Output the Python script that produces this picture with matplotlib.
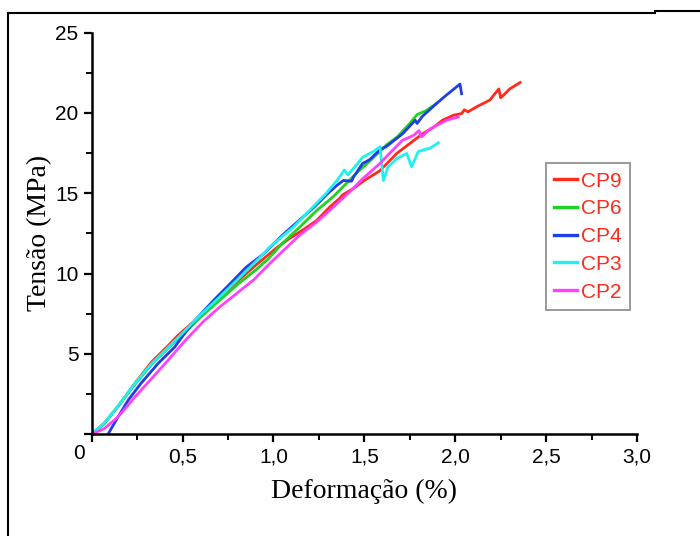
import numpy as np
import matplotlib
matplotlib.use('Agg')
import matplotlib.pyplot as plt
from matplotlib.ticker import MultipleLocator
from matplotlib.lines import Line2D

# Data (strain %, stress MPa)
cp9_x = [0.0, 0.07, 0.15, 0.24, 0.33, 0.42, 0.47, 0.6, 0.7, 0.8, 0.9, 1.017, 1.09, 1.16,
         1.237, 1.31, 1.366, 1.38, 1.41, 1.44, 1.5, 1.585, 1.68, 1.75, 1.82, 1.88, 1.93,
         1.99, 2.036, 2.05, 2.07, 2.12, 2.19, 2.24, 2.25, 2.265, 2.3, 2.357]
cp9_y = [0.0, 0.7, 1.8, 3.2, 4.5, 5.5, 6.1, 7.4, 8.5, 9.5, 10.5, 11.6, 12.2, 12.7,
         13.3, 14.15, 14.7, 14.9, 15.1, 15.3, 15.8, 16.4, 17.5, 18.1, 18.7, 19.1, 19.55,
         19.86, 19.97, 20.2, 20.07, 20.4, 20.8, 21.5, 20.95, 21.1, 21.5, 21.9]

cp6_x = [0.0, 0.07, 0.145, 0.237, 0.33, 0.42, 0.5, 0.6, 0.7, 0.8, 0.9, 0.97, 1.05, 1.145,
         1.24, 1.33, 1.4, 1.46, 1.53, 1.62, 1.68, 1.75, 1.79, 1.84, 1.898]
cp6_y = [0.0, 0.65, 1.75, 3.1, 4.35, 5.35, 6.2, 7.3, 8.3, 9.3, 10.2, 10.9, 11.9, 12.9,
         13.95, 14.8, 15.6, 16.3, 17.0, 18.0, 18.5, 19.35, 19.9, 20.15, 20.6]

cp4_x = [0.09, 0.145, 0.2, 0.27, 0.365, 0.457, 0.5, 0.577, 0.668, 0.76, 0.85, 0.943, 1.05,
         1.14, 1.23, 1.3, 1.35, 1.385, 1.43, 1.44, 1.49, 1.53, 1.585, 1.62, 1.71, 1.78,
         1.79, 1.82, 1.898, 1.95, 2.026, 2.035]
cp4_y = [0.0, 1.08, 2.1, 3.15, 4.4, 5.43, 6.1, 7.2, 8.3, 9.35, 10.4, 11.2, 12.4,
         13.3, 14.2, 15.0, 15.5, 15.8, 15.75, 16.0, 16.85, 17.1, 17.7, 17.9, 18.7, 19.55,
         19.35, 19.8, 20.6, 21.1, 21.8, 21.2]

cp3_x = [0.0, 0.07, 0.145, 0.237, 0.33, 0.42, 0.5, 0.6, 0.7, 0.8, 0.925, 0.98, 1.11, 1.2,
         1.29, 1.35, 1.39, 1.41, 1.44, 1.494, 1.55, 1.586, 1.605, 1.63, 1.68, 1.733, 1.76,
         1.797, 1.824, 1.86, 1.907]
cp3_y = [0.0, 0.7, 1.75, 3.15, 4.4, 5.4, 6.3, 7.45, 8.5, 9.6, 11.0, 11.66, 12.9, 13.95,
         15.0, 15.8, 16.45, 16.15, 16.55, 17.27, 17.6, 17.9, 15.8, 16.64, 17.17, 17.48, 16.65,
         17.6, 17.7, 17.8, 18.14]

cp2_x = [0.0, 0.07, 0.145, 0.237, 0.33, 0.42, 0.52, 0.613, 0.705, 0.797, 0.89, 0.98, 1.07,
         1.145, 1.237, 1.33, 1.42, 1.49, 1.585, 1.64, 1.71, 1.77, 1.8, 1.815, 1.86, 1.953, 2.017]
cp2_y = [0.0, 0.35, 1.08, 2.3, 3.47, 4.6, 5.9, 7.0, 7.93, 8.76, 9.6, 10.63, 11.6,
         12.4, 13.2, 14.15, 15.1, 15.9, 16.85, 17.5, 18.3, 18.6, 18.9, 18.5, 19.0, 19.55, 19.75]

series = [('CP9', cp9_x, cp9_y, '#ff2a1a'),
          ('CP6', cp6_x, cp6_y, '#1fd21f'),
          ('CP4', cp4_x, cp4_y, '#1f3fe6'),
          ('CP3', cp3_x, cp3_y, '#1ff0f0'),
          ('CP2', cp2_x, cp2_y, '#ff40ff')]

x_ticks = [0, 0.5, 1.0, 1.5, 2.0, 2.5, 3.0]
x_labels = ['', '0,5', '1,0', '1,5', '2,0', '2,5', '3,0']
y_ticks = [0, 5, 10, 15, 20, 25]
y_labels = ['', '5', '10', '15', '20', '25']

plt.rcParams['font.family'] = 'Liberation Sans'

fig = plt.figure(figsize=(7, 5.36), dpi=100)
ax = fig.add_axes([0.131, 0.19, 0.779, 0.749])

for name, x, y, c in series:
    ax.plot(x, y, color=c, lw=2.0, label=name)

ax.set_xlim(0, 3.0)
ax.set_ylim(0, 25)
ax.set_xticks(x_ticks)
ax.set_xticklabels(x_labels)
ax.set_yticks(y_ticks)
ax.set_yticklabels(y_labels)
ax.xaxis.set_minor_locator(MultipleLocator(0.25))
ax.yaxis.set_minor_locator(MultipleLocator(2.5))
ax.tick_params(which='major', direction='out', length=6, width=1.6, labelsize=15, colors='black')
ax.tick_params(which='minor', direction='out', length=4, width=1.4)
ax.spines['top'].set_visible(False)
ax.spines['right'].set_visible(False)
ax.spines['left'].set_linewidth(1.8)
ax.spines['bottom'].set_linewidth(1.8)

ax.text(-0.035, -0.6, '0', ha='right', va='top', fontsize=15)

ax.set_xlabel('Deformação (%)', family='Liberation Serif', fontsize=20, labelpad=9)
ax.set_ylabel('Tensão (MPa)', family='Liberation Serif', fontsize=20, labelpad=2)

leg = ax.legend(loc='upper left', bbox_to_anchor=(0.833, 0.675), fontsize=15,
                labelcolor='#ff2a1a', frameon=True, fancybox=False, handlelength=1.1,
                handletextpad=0.2, borderpad=0.4, labelspacing=0.42, borderaxespad=0)
leg.get_frame().set_edgecolor('#808080')
leg.get_frame().set_linewidth(1.4)
for h in leg.get_lines():
    h.set_linewidth(2.4)

# page frame seen in the screenshot
fig.add_artist(Line2D([8/700, 655/700], [1 - 13/536, 1 - 13/536], color='black', lw=1.5))
fig.add_artist(Line2D([655/700, 1.0], [1 - 11/536, 1 - 11/536], color='black', lw=1.5))
fig.add_artist(Line2D([8/700, 8/700], [0, 1 - 13/536], color='black', lw=1.5))

fig.savefig('out.png', dpi=100)
